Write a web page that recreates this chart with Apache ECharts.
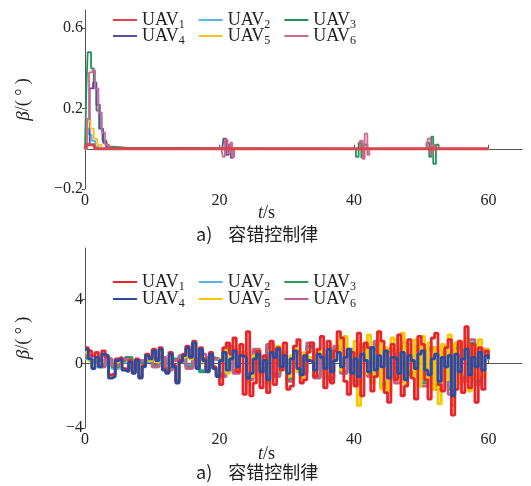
<!DOCTYPE html>
<html>
<head>
<meta charset="utf-8">
<title>UAV beta</title>
<script src="https://cdn.jsdelivr.net/npm/echarts@6/dist/echarts.min.js"></script>
<style>
html, body {
	margin: 0;
	padding: 0;
	background: #fff;
}
#chart {
	width: 531px;
	height: 486px;
}
</style>
</head>
<body>
<div id="chart"></div>
<script type="text/javascript">
    var uavNames = ['1', '2', '3', '4', '5', '6'];
    var xTicks = [0, 20, 40, 60];
    var topYTicks = [-0.2, 0.2, 0.6];
    var bottomYTicks = [-4, 0, 4];

    // top plot: [t, beta] pairs
    var topUav1 = [[0,0],[0.2,0.02],[1.3,0.02],[1.5,0],[60,0]];
    var topUav2 = [[0,0],[0.2,0.1],[0.6,0.07],[1.0,0.04],[1.5,0.01],[2,0],[60,0]];
    var topUav3 = [[0,0],[0.2,0.3],[0.4,0.48],[0.9,0.4],[1.3,0.3],[1.7,0.19],[2.1,0.1],[2.6,0.04],[3.2,0.01],[4,0.005],[6,0],
        [40,0],[40.3,-0.04],[40.7,0.03],[41.1,-0.045],[41.5,0.02],[42,0],
        [50.5,0],[50.8,0.03],[51.2,-0.04],[51.5,0.06],[51.8,-0.075],[52.2,0.02],[52.6,0],[60,0]];
    var topUav4 = [[0,0],[0.3,0.02],[0.7,0.3],[1.2,0.33],[1.7,0.22],[2.2,0.1],[2.7,0.03],[3.2,0],
        [20.4,0],[20.6,0.05],[21,-0.03],[21.4,0.02],[21.7,-0.045],[22,0],[60,0]];
    var topUav5 = [[0,0],[0.3,0.14],[0.8,0.1],[1.3,0.05],[1.8,0.02],[2.4,0],[60,0]];
    var topUav6 = [[0,0],[0.3,0.15],[0.6,0.38],[1.1,0.39],[1.5,0.3],[2,0.18],[2.5,0.08],[3,0.02],[3.6,0],
        [20.3,0],[20.5,-0.04],[20.8,0.045],[21.2,-0.02],[21.6,0.03],[21.9,-0.04],[22.2,0],
        [40.5,0],[40.9,0.04],[41.3,-0.05],[41.6,0.075],[42,-0.03],[42.3,0],
        [50.8,0],[51,0.05],[51.4,-0.03],[51.7,0.02],[52,0],[60,0]];

    // bottom plot: samples every 0.5 s (UAV1, 4, 5) or 1 s (UAV2, 3, 6)
    var botUav1 = [1.0,0.8,0.5,0.7,0.2,0.8,0.4,-0.7,-0.6,0.3,
        0.4,-0.3,-0.4,0.2,-0.5,0.3,-0.8,-0.1,0.6,0.4,
        0.9,0.3,1.0,-0.3,-0.5,0.7,-0.1,-1.1,0.2,0.6,
        1.1,0.5,1.4,-0.2,1.0,0.3,-0.4,0.7,-0.2,-0.7,
        -1.3,1.0,1.3,0.6,1.6,-0.5,1.2,-1.9,2.0,-2.0,
        -1.2,0.8,-1.5,0.5,-1.8,1.4,-1.3,1.0,-0.4,1.3,
        -1.6,-1.4,1.1,1.5,-1.2,-1.0,0.7,1.3,-0.8,0.9,
        1.7,-1.5,1.4,-1.2,0.8,2.0,1.6,-1.1,-1.9,0.7,
        -1.4,1.9,-2.0,1.3,1.0,-1.7,-0.8,2.0,1.4,-1.8,
        -2.4,1.2,-1.0,1.8,-2.0,-1.4,1.5,-0.9,-2.2,1.7,
        1.2,-1.0,-2.2,1.6,1.9,-1.3,-1.7,1.0,1.5,-3.2,
        -1.6,1.4,-1.8,2.3,-1.5,1.2,-2.4,1.0,-1.6,0.8,
        0.4];
    var botUav4 = [0.9,0.3,-0.3,0.4,-0.2,0.6,0.5,-0.9,-0.8,0.2,
        0.3,-0.4,-0.5,0.1,-0.6,0.2,-0.9,-0.2,0.5,0.3,
        0.8,0.2,0.9,-0.4,-0.6,0.6,-0.2,-1.2,0.1,0.5,
        1.0,0.4,1.3,-0.3,0.9,0.2,-0.5,0.6,-0.3,-0.8,
        0.2,0.7,-0.4,0.3,0.8,-0.2,0.5,0.4,-0.9,-0.6,
        0.3,0.6,-0.5,0.2,-1.0,0.7,0.4,0.9,-0.2,0.5,
        -0.6,0.3,0.8,-0.3,-0.7,0.5,0.2,0.1,-0.4,0.6,
        0.4,-0.3,0.9,-0.5,0.2,0.7,-0.2,0.4,0.9,-0.6,
        0.3,-0.8,0.6,0.2,-0.5,1.0,-0.4,0.5,-0.2,0.8,
        -0.9,0.4,0.3,-0.6,0.7,-1.0,0.5,0.2,-0.3,0.6,
        0.8,-0.4,-0.7,0.3,0.6,-1.1,0.4,-0.2,0.5,-2.0,
        0.6,-0.5,0.3,0.9,-0.7,0.4,-0.2,0.7,-0.4,0.5,
        0.3];
    var botUav5 = [0.7,0.2,-0.2,0.3,-0.1,0.5,0.4,-0.8,-0.7,0.1,
        0.2,-0.3,-0.4,0.1,-0.5,0.1,-0.8,-0.1,0.4,0.2,
        0.7,0.1,0.8,-0.3,-0.5,0.5,-0.1,-1.0,0.1,0.4,
        0.9,0.3,1.1,-0.2,0.8,0.1,-0.4,0.5,-0.2,-0.7,
        0.3,0.9,-0.6,0.5,1.0,-0.4,0.7,0.6,-1.1,-0.8,
        0.5,0.8,-0.7,0.4,-1.2,0.9,0.6,1.1,-0.4,0.7,
        -0.8,0.5,1.0,-0.5,-0.9,0.7,0.4,0.3,-0.6,0.8,
        0.6,-0.5,1.1,-0.7,0.4,1.5,-0.4,1.7,0.8,-1.0,
        1.4,-2.6,1.2,-0.6,1.8,-1.2,0.7,1.9,-1.6,1.0,
        -1.8,1.6,0.8,-1.0,1.9,-1.3,1.2,-0.8,1.5,-1.4,
        1.7,-0.9,1.3,-1.6,1.0,-2.5,1.2,-1.0,1.8,-2.6,
        1.3,-1.2,0.9,1.6,-1.7,1.1,-0.9,1.5,-0.8,0.9,
        0.5];
    var botUav2 = [0.3,0.1,-0.2,0.2,-0.3,0.1,0.3,-0.4,0.1,0.2,
        -0.2,0.3,-0.3,0.2,0.4,-0.1,0.2,-0.4,0.3,0.2,
        -0.6,0.8,-0.4,0.5,-0.8,0.7,-0.3,0.9,-0.6,0.4,
        -0.9,0.6,-0.5,1.0,-0.7,0.3,-0.8,0.9,-0.4,0.7,
        -1.0,0.9,-0.6,1.1,-1.2,0.7,-0.9,1.0,-0.5,0.8,
        -1.1,0.8,-1.3,0.6,-1.4,0.9,-0.8,1.2,-1.0,0.7,
        0.2];
    var botUav3 = [0.4,0.2,-0.1,0.3,-0.2,0.2,0.4,-0.3,0.1,0.3,
        -0.1,0.4,-0.3,0.3,0.5,-0.2,0.3,-0.5,0.4,0.3,
        -0.7,0.9,-0.5,0.6,-0.9,0.8,-0.4,1.0,-0.7,0.5,
        -1.0,0.7,-0.6,1.1,-0.8,0.4,-0.9,1.0,-0.5,0.8,
        -1.1,1.0,-0.7,1.2,-1.3,0.8,-1.0,1.1,-0.6,0.9,
        -1.2,0.9,-1.4,0.7,-1.6,1.0,-0.9,1.3,-1.1,0.8,
        0.3];
    var botUav6 = [0.5,0.1,-0.2,0.3,-0.1,0.3,0.2,-0.4,0.2,0.3,
        -0.2,0.4,-0.4,0.2,0.5,-0.3,0.2,0.6,-0.2,0.3,
        -0.8,1.1,-0.6,0.7,-1.0,0.9,-0.5,1.2,-0.8,0.6,
        -1.1,0.8,-0.7,1.3,-0.9,0.5,-1.0,1.1,-0.6,0.9,
        -1.3,1.2,-0.8,1.4,-1.5,0.9,-1.2,1.3,-0.7,1.1,
        -1.4,1.0,-1.6,0.8,-1.9,1.2,-1.1,1.5,-1.3,0.9,
        0.4];

    var topColors = ['#d9464e', '#56b8e0', '#22915a', '#5a4ea0', '#f2c31c', '#d0678f'];
    var botColors = ['#e8262a', '#5ab4e5', '#2a9a60', '#2b4aa0', '#f5c800', '#c0608e'];

    function sampled(values, dt) {
        return values.map(function (v, i) { return [i * dt, v]; });
    }

    var topData = [topUav1, topUav2, topUav3, topUav4, topUav5, topUav6];
    var botData = [sampled(botUav1, 0.5), sampled(botUav2, 1), sampled(botUav3, 1),
        sampled(botUav4, 0.5), sampled(botUav5, 0.5), sampled(botUav6, 1)];
    var topZ = [8, 3, 4, 5, 6, 7];
    var botZ = [7, 2, 3, 8, 6, 4];

    var serif = '"Liberation Serif", "DejaVu Serif", serif';
    var legendText = {
        fontFamily: serif,
        fontSize: 18,
        color: '#222',
        rich: {
            s: { fontFamily: serif, fontSize: 12, color: '#222', padding: [10, 0, 0, 0] }
        }
    };

    function legendRow(prefix, ids, top) {
        return {
            left: 108,
            top: top,
            orient: 'horizontal',
            icon: 'rect',
            itemWidth: 24,
            itemHeight: 2,
            itemGap: 14,
            data: ids.map(function (d) { return prefix + d; }),
            textStyle: legendText,
            formatter: function (n) { return 'UAV{s|' + n.slice(-1) + '}'; }
        };
    }

    function xAxisOf(gridIndex) {
        return {
            type: 'value',
            gridIndex: gridIndex,
            min: 0,
            max: 65,
            axisLine: { lineStyle: { color: '#555', width: 1 } },
            axisTick: { inside: true, length: 4, customValues: xTicks, lineStyle: { color: '#555' } },
            axisLabel: { customValues: xTicks, color: '#222', fontFamily: serif, fontSize: 16, margin: 4 },
            splitLine: { show: false }
        };
    }

    function yAxisOf(gridIndex, min, max, ticks) {
        return {
            type: 'value',
            gridIndex: gridIndex,
            min: min,
            max: max,
            name: '{i|β}{n|/( ° )}',
            nameLocation: 'middle',
            nameGap: 52,
            nameRotate: 90,
            nameTextStyle: {
                rich: {
                    i: { fontFamily: serif, fontStyle: 'italic', fontSize: 19, color: '#222' },
                    n: { fontFamily: serif, fontSize: 18, color: '#222' }
                }
            },
            axisLine: { show: true, lineStyle: { color: '#555', width: 1 } },
            axisTick: { show: true, length: 3, customValues: ticks, lineStyle: { color: '#555' } },
            axisLabel: {
                customValues: ticks, color: '#222', fontFamily: serif, fontSize: 16, margin: 2,
                formatter: function (v) { return v < 0 ? '−' + Math.abs(v) : String(v); }
            },
            splitLine: { show: false }
        };
    }

    var series = [];
    for (var k = 0; k < 6; k++) {
        series.push({
            name: 'a' + uavNames[k],
            type: 'line',
            step: 'end',
            symbol: 'none',
            xAxisIndex: 0,
            yAxisIndex: 0,
            z: topZ[k],
            color: topColors[k],
            lineStyle: { width: k === 0 ? 3 : 1.8 },
            data: topData[k]
        });
    }
    for (var k = 0; k < 6; k++) {
        series.push({
            name: 'b' + uavNames[k],
            type: 'line',
            step: 'end',
            symbol: 'none',
            xAxisIndex: 1,
            yAxisIndex: 1,
            z: botZ[k],
            color: botColors[k],
            lineStyle: { width: 2.8 },
            data: botData[k]
        });
    }

    function caption(top) {
        return {
            type: 'text',
            left: 196,
            top: top,
            style: {
                text: 'a)    容错控制律',
                font: '18px "Noto Sans CJK SC", sans-serif',
                fill: '#222'
            }
        };
    }
    function tsLabel(top) {
        return {
            type: 'text',
            left: 258,
            top: top,
            style: {
                rich: {
                    i: { fontFamily: serif, fontStyle: 'italic', fontSize: 18, fill: '#222' },
                    n: { fontFamily: serif, fontSize: 18, fill: '#222' }
                },
                text: '{i|t}{n|/s}'
            }
        };
    }

    var option = {
        animation: false,
        backgroundColor: '#fff',
        grid: [
            { left: 85, right: 9, top: 10, height: 179 },
            { left: 85, right: 9, top: 248, height: 180 }
        ],
        legend: [
            legendRow('a', ['1', '2', '3'], 6),
            legendRow('a', ['4', '5', '6'], 22),
            legendRow('b', ['1', '2', '3'], 268),
            legendRow('b', ['4', '5', '6'], 285)
        ],
        xAxis: [xAxisOf(0), xAxisOf(1)],
        yAxis: [
            yAxisOf(0, -0.2, 0.69, topYTicks),
            yAxisOf(1, -4, 7.2, bottomYTicks)
        ],
        graphic: [tsLabel(204), caption(225), tsLabel(445), caption(463)],
        series: series
    };

    var chart = echarts.init(document.getElementById('chart'));
    chart.setOption(option);
</script>
</body>
</html>
